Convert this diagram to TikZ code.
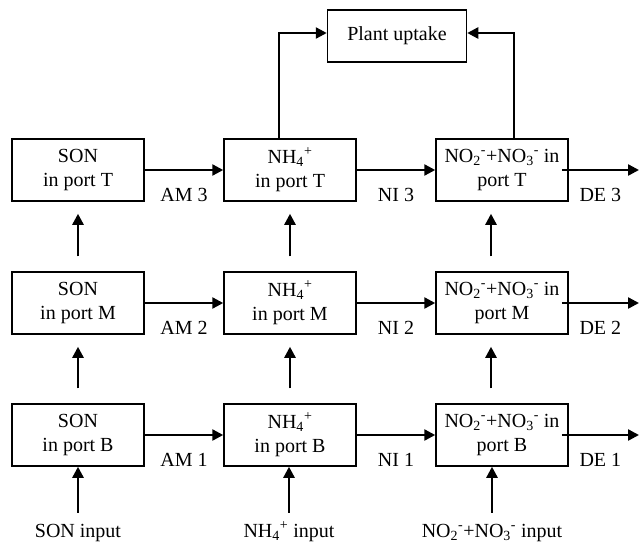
\documentclass[tikz,border=0pt]{standalone}
\usepackage{fontspec}
\setmainfont{Liberation Serif}
\usetikzlibrary{arrows.meta}
\newcommand{\nhion}{NH\textsubscript{4}\textsuperscript{+}}
\newcommand{\noion}{NO\textsubscript{2}\textsuperscript{-}+NO\textsubscript{3}\textsuperscript{-}}

\begin{document}
\begin{tikzpicture}
   [x=1pt,y=-1pt,font=\fontsize{20}{24.5}\selectfont,
    pool/.style={draw,line width=1.5pt,minimum width=132pt,minimum height=62pt,align=center,inner sep=0pt},
    flow/.style={line width=2.4pt,-{Triangle[length=11pt,width=11pt]}},
    lab/.style={inner sep=0pt},
    inlab/.style={inner sep=0pt,text height=14pt,text depth=4pt}]
   \useasboundingbox (0,0) rectangle (639,544);
   \node[pool,minimum width=139pt,minimum height=52pt] (plant) at (397,36) {Plant uptake};
   % pools, rows T, M, B
   \foreach \r/\y in {T/170,M/303,B/435} {
      \node[pool] (son\r) at (78,\y) {SON\\in port \r};
      \node[pool] (nh\r) at (290,\y) {\nhion\\in port \r};
      \node[pool] (no\r) at (502,\y) {\noion{} in\\port \r};
   }
   % inputs
   \node[inlab] (sonin) at (78,532) {SON input};
   \node[inlab] (nhin) at (289,532) {\nhion{} input};
   \node[inlab] (noin) at (492,532) {\noion{} input};
   \coordinate (deT) at (639,170);
   \coordinate (deM) at (639,303);
   \coordinate (deB) at (639,435);
   % transformations
   \foreach \r/\n in {T/3,M/2,B/1} {
      \draw[flow] (son\r) -- node[lab,below=17pt] (am\n) {AM \n} (nh\r);
      \draw[flow] (nh\r) -- node[lab,below=17pt] (ni\n) {NI \n} (no\r);
      \draw[flow] ([xshift=-7pt]no\r.east) -- node[lab,below=17pt] (de\n) {DE \n} (de\r);
   }
   % upward transport
   \foreach \lo/\hi in {B/M,M/T} {
      \draw[flow] ([yshift=15pt]son\lo.north) -- ([yshift=-12pt]son\hi.south);
      \draw[flow] ([yshift=15pt]nh\lo.north) -- ([yshift=-12pt]nh\hi.south);
      \draw[flow] ([xshift=-11pt,yshift=15pt]no\lo.north) -- ([xshift=-11pt,yshift=-12pt]no\hi.south);
   }
   \draw[flow] ([yshift=10pt]sonin.north) -- (sonin |- sonB.south);
   \draw[flow] ([yshift=10pt]nhin.north) -- (nhin |- nhB.south);
   \draw[flow] ([yshift=10pt]noin.north) -- (noin |- noB.south);
   % plant uptake
   \draw[flow] ([xshift=-11pt]nhT.north) |- ([yshift=3pt]plant.west);
   \draw[flow] ([xshift=12pt]noT.north) |- ([yshift=3pt]plant.east);
\end{tikzpicture}
\end{document}
